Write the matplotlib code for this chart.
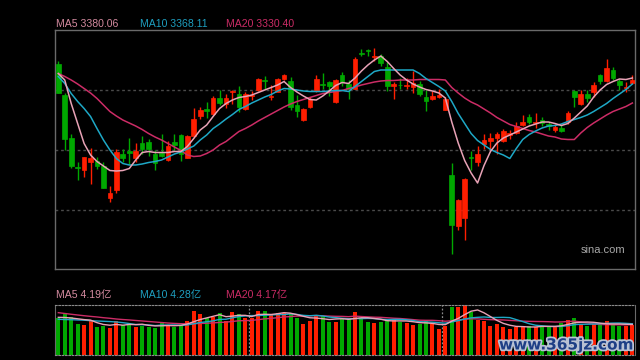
import matplotlib
matplotlib.use("Agg")
import matplotlib.pyplot as plt
import matplotlib.patheffects as pe
import numpy as np

# ── data ─────────────────────────────────────────────────────────────────────
opens = [3408, 3346, 3261, 3203, 3197, 3213, 3214, 3205, 3140, 3157,
         3228, 3234, 3221, 3250, 3252, 3229, 3231, 3217, 3252, 3266,
         3221, 3264, 3305, 3319, 3309, 3341, 3329, 3353, 3348, 3319,
         3344, 3356, 3376, 3343, 3353, 3379, 3374, 3327, 3296, 3323,
         3355, 3368, 3373, 3333, 3386, 3369, 3359, 3431, 3436, 3423,
         3425, 3403, 3365, 3367, 3365, 3363, 3369, 3343, 3339, 3342,
         3317, 3186, 3084, 3101, 3222, 3213, 3248, 3255, 3261, 3255,
         3266, 3271, 3287, 3303, 3291, 3296, 3288, 3277, 3281, 3293,
         3354, 3329, 3348, 3353, 3386, 3375, 3397, 3374, 3361, 3371]
closes = [3351, 3258, 3205, 3201, 3222, 3221, 3205, 3161, 3150, 3232,
          3220, 3231, 3234, 3238, 3239, 3210, 3225, 3244, 3246, 3228,
          3264, 3298, 3316, 3314, 3341, 3331, 3341, 3355, 3323, 3349,
          3346, 3379, 3374, 3344, 3379, 3386, 3323, 3314, 3318, 3339,
          3378, 3366, 3365, 3376, 3373, 3358, 3418, 3429, 3434, 3424,
          3411, 3365, 3369, 3366, 3366, 3371, 3348, 3334, 3345, 3347,
          3339, 3086, 3136, 3178, 3220, 3229, 3256, 3261, 3268, 3274,
          3271, 3284, 3293, 3293, 3293, 3291, 3284, 3283, 3275, 3311,
          3343, 3348, 3341, 3366, 3375, 3401, 3380, 3367, 3363, 3377]
highs = [3415, 3350, 3268, 3213, 3223, 3240, 3223, 3213, 3164, 3239,
         3239, 3260, 3251, 3264, 3258, 3236, 3269, 3255, 3269, 3269,
         3267, 3321, 3323, 3333, 3344, 3357, 3348, 3356, 3365, 3353,
         3354, 3381, 3385, 3367, 3381, 3389, 3383, 3347, 3321, 3342,
         3387, 3391, 3374, 3379, 3393, 3376, 3423, 3438, 3439, 3441,
         3429, 3413, 3373, 3381, 3381, 3394, 3374, 3357, 3354, 3358,
         3343, 3211, 3139, 3181, 3234, 3244, 3268, 3271, 3273, 3279,
         3276, 3293, 3306, 3309, 3311, 3303, 3293, 3289, 3286, 3315,
         3357, 3357, 3356, 3373, 3389, 3418, 3403, 3379, 3373, 3386]
lows = [3350, 3236, 3200, 3177, 3183, 3168, 3199, 3160, 3132, 3151,
        3213, 3209, 3212, 3228, 3225, 3197, 3223, 3215, 3236, 3215,
        3220, 3262, 3299, 3301, 3306, 3326, 3321, 3329, 3313, 3316,
        3336, 3354, 3359, 3337, 3352, 3376, 3316, 3303, 3294, 3321,
        3353, 3359, 3344, 3330, 3364, 3339, 3358, 3425, 3425, 3414,
        3405, 3354, 3339, 3359, 3359, 3351, 3345, 3314, 3336, 3340,
        3316, 3029, 3076, 3057, 3197, 3205, 3239, 3236, 3228, 3253,
        3259, 3268, 3284, 3289, 3281, 3284, 3276, 3273, 3273, 3289,
        3323, 3326, 3333, 3343, 3369, 3373, 3376, 3356, 3353, 3369]

ma5 = [3389, 3376, 3329, 3289, 3249, 3226, 3213, 3204, 3195, 3194,
       3195, 3199, 3216, 3231, 3233, 3231, 3231, 3231, 3233, 3233,
       3243, 3259, 3276, 3286, 3303, 3319, 3329, 3336, 3341, 3343,
       3346, 3351, 3356, 3361, 3366, 3373, 3361, 3352, 3344, 3337,
       3336, 3344, 3354, 3365, 3371, 3369, 3380, 3394, 3406, 3416,
       3424, 3413, 3399, 3386, 3376, 3368, 3362, 3357, 3354, 3350,
       3340, 3292, 3250, 3215, 3190, 3170, 3205, 3233, 3250, 3260,
       3266, 3272, 3278, 3284, 3288, 3292, 3292, 3289, 3285, 3289,
       3300, 3312, 3324, 3342, 3356, 3367, 3373, 3378, 3377, 3380]
ma10 = [3383, 3369, 3349, 3333, 3319, 3303, 3279, 3256, 3236, 3219,
        3209, 3206, 3206, 3208, 3211, 3213, 3216, 3222, 3228, 3232,
        3238, 3244, 3256, 3266, 3279, 3288, 3298, 3307, 3317, 3323,
        3330, 3336, 3342, 3347, 3354, 3359, 3358, 3356, 3354, 3353,
        3353, 3353, 3354, 3355, 3355, 3353, 3363, 3373, 3383, 3393,
        3396, 3396, 3396, 3396, 3396, 3396, 3389, 3379, 3371, 3363,
        3354, 3333, 3309, 3289, 3269, 3255, 3246, 3237, 3231, 3226,
        3219, 3239, 3257, 3267, 3274, 3280, 3284, 3285, 3288, 3293,
        3297, 3301, 3306, 3313, 3321, 3329, 3339, 3348, 3357, 3368]
ma20 = [3389, 3383, 3376, 3368, 3359, 3350, 3339, 3326, 3313, 3304,
        3296, 3290, 3284, 3277, 3269, 3262, 3256, 3249, 3242, 3235,
        3226, 3223, 3224, 3229, 3236, 3246, 3253, 3263, 3273, 3279,
        3286, 3294, 3301, 3308, 3315, 3322, 3328, 3333, 3337, 3341,
        3345, 3349, 3351, 3353, 3355, 3359, 3362, 3366, 3369, 3372,
        3374, 3375, 3375, 3376, 3376, 3376, 3377, 3377, 3377, 3377,
        3376, 3361, 3350, 3340, 3332, 3326, 3318, 3310, 3301, 3294,
        3287, 3283, 3279, 3275, 3272, 3268, 3264, 3262, 3258, 3257,
        3257, 3270, 3281, 3290, 3298, 3306, 3313, 3318, 3323, 3330]

# volume in 亿
volume = [5.03, 5.71, 5.16, 4.25, 4.11, 4.70, 3.88, 3.97, 3.74, 4.70,
          4.11, 4.43, 3.88, 4.01, 3.88, 3.74, 4.52, 4.07, 3.88, 4.07,
          4.70, 6.07, 5.58, 5.03, 5.16, 5.80, 4.70, 5.93, 5.58, 5.11,
          5.03, 6.07, 6.07, 5.44, 5.71, 5.71, 5.71, 5.11, 4.25, 4.70,
          5.48, 5.34, 4.56, 4.56, 4.89, 5.07, 5.93, 5.03, 4.56, 4.43,
          4.56, 4.89, 4.93, 4.56, 4.34, 4.11, 4.21, 4.80, 4.21, 3.60,
          4.01, 6.62, 6.62, 6.85, 5.93, 4.80, 4.70, 4.01, 4.25, 3.88,
          3.56, 3.88, 3.88, 4.01, 3.88, 3.97, 3.88, 3.88, 4.43, 4.80,
          5.11, 4.25, 4.01, 4.25, 4.21, 4.66, 4.11, 4.01, 4.01, 4.11]
vol_ma5 = [5.16, 5.14, 5.07, 4.96, 4.85, 4.78, 4.43, 4.18, 4.08, 4.19,
           4.08, 4.19, 4.16, 4.22, 4.06, 3.99, 4.00, 4.04, 4.01, 4.06,
           4.25, 4.56, 4.86, 5.08, 5.30, 5.52, 5.25, 5.33, 5.44, 5.43,
           5.27, 5.55, 5.58, 5.55, 5.66, 5.80, 5.73, 5.53, 5.30, 5.10,
           5.06, 4.97, 4.86, 4.93, 4.97, 4.89, 5.00, 5.10, 5.10, 5.00,
           4.90, 4.70, 4.67, 4.67, 4.66, 4.56, 4.43, 4.40, 4.33, 4.18,
           4.16, 4.64, 5.01, 5.53, 6.00, 6.17, 5.78, 5.26, 4.74, 4.33,
           4.08, 3.92, 3.89, 3.84, 3.84, 3.92, 3.92, 3.92, 4.00, 4.19,
           4.41, 4.49, 4.52, 4.48, 4.37, 4.27, 4.25, 4.25, 4.21, 4.19]
vol_ma10 = [4.89, 4.86, 4.84, 4.80, 4.77, 4.70, 4.66, 4.62, 4.58, 4.52,
            4.43, 4.31, 4.17, 4.15, 4.12, 4.03, 4.10, 4.10, 4.12, 4.06,
            4.12, 4.28, 4.45, 4.55, 4.68, 4.88, 4.90, 5.10, 5.26, 5.36,
            5.40, 5.40, 5.45, 5.49, 5.54, 5.53, 5.64, 5.56, 5.43, 5.38,
            5.43, 5.35, 5.20, 5.12, 5.03, 4.97, 4.99, 4.98, 5.01, 4.99,
            4.90, 4.85, 4.88, 4.88, 4.83, 4.73, 4.56, 4.53, 4.50, 4.42,
            4.36, 4.53, 4.71, 4.93, 5.09, 5.16, 5.21, 5.14, 5.14, 5.16,
            5.12, 4.85, 4.58, 4.29, 4.08, 4.00, 3.92, 3.90, 3.92, 4.01,
            4.16, 4.21, 4.22, 4.24, 4.28, 4.34, 4.37, 4.38, 4.34, 4.28]
vol_ma20 = [5.80, 5.69, 5.58, 5.48, 5.38, 5.29, 5.21, 5.11, 5.03, 4.93,
            4.86, 4.80, 4.73, 4.66, 4.59, 4.52, 4.45, 4.38, 4.33, 4.29,
            4.27, 4.29, 4.32, 4.35, 4.40, 4.46, 4.50, 4.60, 4.69, 4.71,
            4.75, 4.84, 4.95, 5.02, 5.11, 5.21, 5.27, 5.33, 5.34, 5.37,
            5.41, 5.37, 5.33, 5.30, 5.29, 5.25, 5.32, 5.27, 5.22, 5.18,
            5.16, 5.10, 5.04, 5.00, 4.93, 4.85, 4.77, 4.75, 4.75, 4.70,
            4.63, 4.69, 4.80, 4.90, 4.96, 4.95, 4.89, 4.84, 4.82, 4.80,
            4.74, 4.69, 4.64, 4.61, 4.59, 4.58, 4.56, 4.52, 4.53, 4.59,
            4.64, 4.53, 4.40, 4.26, 4.18, 4.17, 4.14, 4.14, 4.13, 4.17]

ma_labels = ["MA5 3380.06", "MA10 3368.11", "MA20 3330.40"]
vol_labels = ["MA5 4.19亿", "MA10 4.28亿", "MA20 4.17亿"]
separators = [29.5, 59.5]

# ── styling ──────────────────────────────────────────────────────────────────
BG = "#000000"
RED = "#ff1e00"
GREEN = "#00a800"
C_MA5 = "#e8a2b6"
C_MA10 = "#1ea8c6"
C_MA20 = "#cc2c66"
TXT5, TXT10, TXT20 = "#d58ba0", "#1e9fc0", "#cc2c66"
BORDER = "#6a6a6a"
GRID = "#4a4a4a"
FONT = ["Liberation Sans", "Noto Sans CJK SC"]

x = np.arange(len(closes))
up = np.array(closes) >= np.array(opens)
colours = np.where(up, RED, GREEN)

fig = plt.figure(figsize=(6.4, 3.6), dpi=100, facecolor=BG)
ax = fig.add_axes([54.5 / 640, 91 / 360, 580 / 640, 239.5 / 360], facecolor=BG)
axv = fig.add_axes([54.5 / 640, 5 / 360, 580 / 640, 50 / 360], facecolor=BG)

# ── price panel ──────────────────────────────────────────────────────────────
ax.set_xlim(-0.59, 89.33)
ax.set_ylim(2998, 3477)
for lvl in (3356, 3236, 3116):
    ax.axhline(lvl, color=GRID, lw=1.0, ls=(0, (2, 2)), zorder=0)

ax.vlines(x, lows, highs, colors=colours, lw=1.0, zorder=2)
body_lo = np.minimum(opens, closes)
body_h = np.maximum(np.abs(np.array(closes) - np.array(opens)), 1.0)
ax.bar(x, body_h, bottom=body_lo, width=0.72, color=colours,
       edgecolor=colours, linewidth=0.5, zorder=3)

ax.plot(x, ma20, color=C_MA20, lw=1.1, zorder=4)
ax.plot(x, ma10, color=C_MA10, lw=1.1, zorder=4)
ax.plot(x, ma5, color=C_MA5, lw=1.1, zorder=5)

ax.set_xticks([])
ax.set_yticks([])
for s in ax.spines.values():
    s.set_color(BORDER)
    s.set_linewidth(1.0)

ax.text(0.985, 0.08, "sina.com", transform=ax.transAxes, ha="right",
        va="center", color="#a8a8a8", fontsize=8, family=FONT)

# ── volume panel ─────────────────────────────────────────────────────────────
axv.set_xlim(-0.59, 89.33)
axv.set_ylim(0, 6.85)
axv.bar(x, volume, width=0.62, color=colours, linewidth=0, zorder=2)
axv.plot(x, vol_ma20, color=C_MA20, lw=1.0, zorder=3)
axv.plot(x, vol_ma10, color=C_MA10, lw=1.0, zorder=3)
axv.plot(x, vol_ma5, color=C_MA5, lw=1.0, zorder=4)
for sx in separators:
    axv.axvline(sx, color="#8a8a8a", lw=0.9, ls=(0, (1.5, 1.5)), zorder=1)

axv.set_xticks([])
axv.set_yticks([])
for side in ("top", "bottom"):
    axv.spines[side].set_color("#8a8a8a")
    axv.spines[side].set_linestyle((0, (1.5, 1.5)))
for side in ("left", "right"):
    axv.spines[side].set_color(BORDER)

# ── header texts ─────────────────────────────────────────────────────────────
for lbl, xp, col in zip(ma_labels, (55.5, 140.5, 225.5), (TXT5, TXT10, TXT20)):
    fig.text(xp / 640, 1 - 24 / 360, lbl, color=col, fontsize=7.6,
             family=FONT, va="center", ha="left")
for lbl, xp, col in zip(vol_labels, (55.5, 140.5, 225.5), (TXT5, TXT10, TXT20)):
    fig.text(xp / 640, 1 - 295 / 360, lbl, color=col, fontsize=7.6,
             family=FONT, va="center", ha="left")

# site watermark
fig.text(633 / 640, 1 - 345 / 360, "www.365jz.com", color="#1d3f86",
         fontsize=11, fontweight="bold", family=["DejaVu Sans"],
         ha="right", va="center",
         path_effects=[pe.withStroke(linewidth=2.5, foreground="#b8c2d4")])

fig.savefig("out.png", dpi=100, facecolor=BG)
